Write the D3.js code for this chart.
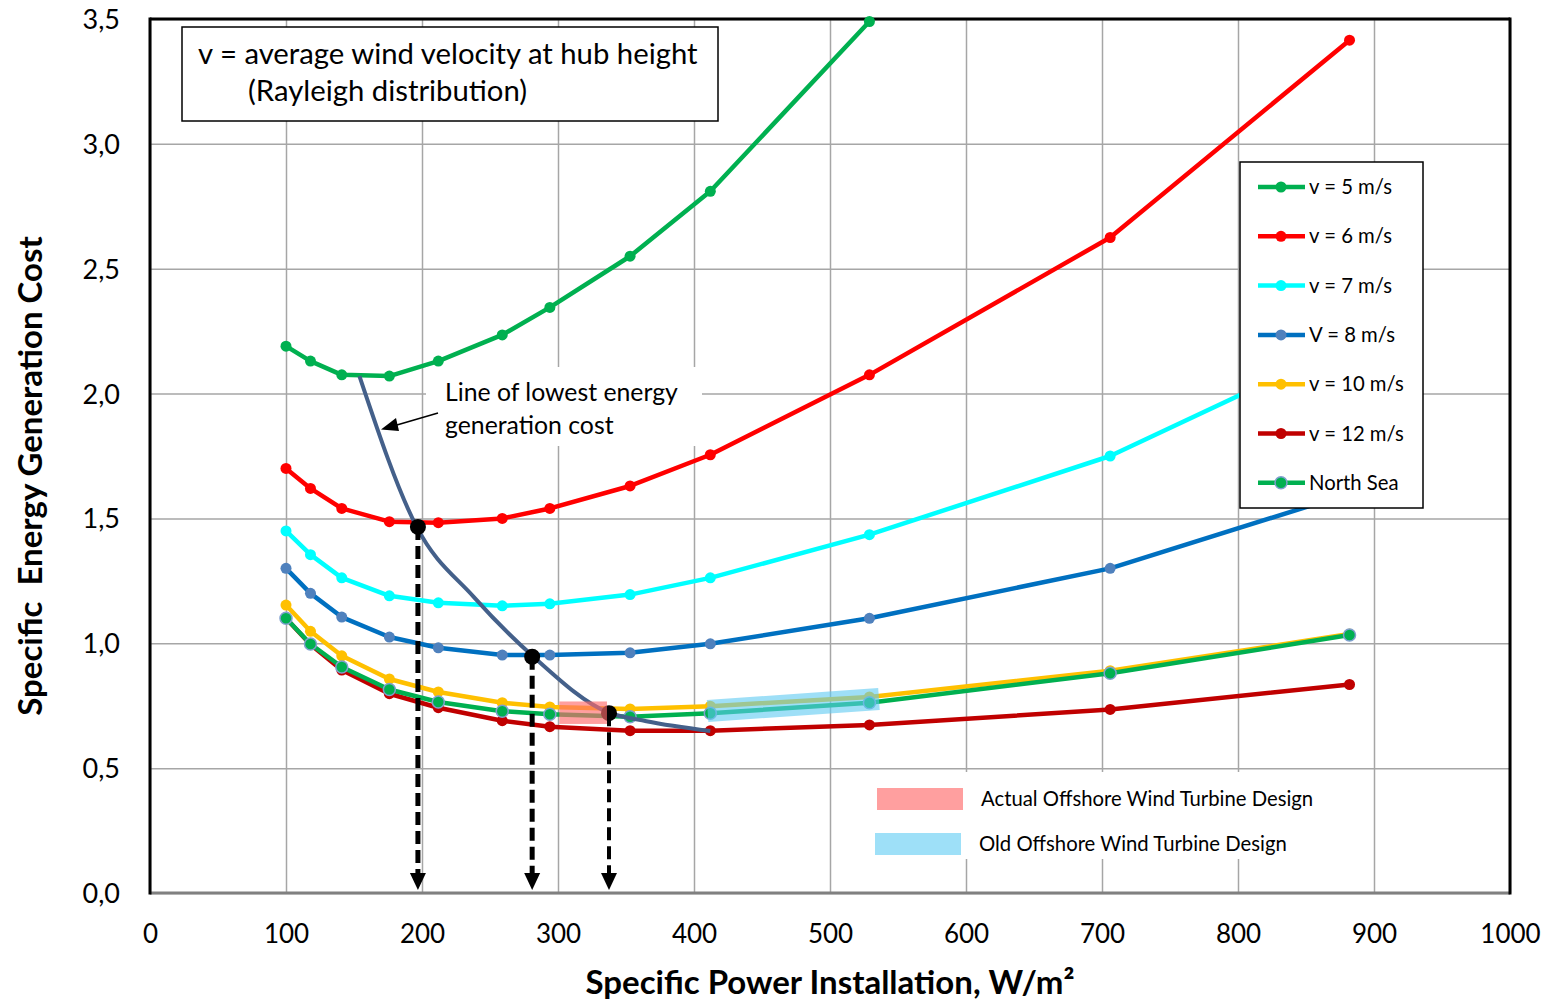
<!DOCTYPE html>
<html>
<head>
<meta charset="utf-8">
<script src="https://cdn.jsdelivr.net/npm/d3@7"></script>
<style>
    body { margin: 0; background: #fff; }
    svg { font-family: Lato, "Open Sans", sans-serif; }
    .tick text { fill: #000; }
    .small-label { font-size: 20.3px; }
</style>
</head>
<body>
<svg width="1549" height="1000"></svg>
<script>
// specific power installation (W/m2) of the computed points
let power = [100, 118, 141, 176, 212, 259, 294, 353, 412, 529, 706, 882];

let cost_v5 = [2.19, 2.13, 2.075, 2.07, 2.13, 2.235, 2.345, 2.55, 2.81, 3.49];
let cost_v6 = [1.70, 1.62, 1.54, 1.487, 1.483, 1.50, 1.54, 1.63, 1.755, 2.075, 2.625, 3.415];
let cost_v7 = [1.45, 1.355, 1.262, 1.19, 1.162, 1.15, 1.158, 1.195, 1.262, 1.435, 1.75, 2.2];
let cost_v8 = [1.30, 1.20, 1.105, 1.025, 0.982, 0.953, 0.953, 0.962, 0.998, 1.10, 1.30, 1.60];
let cost_v10 = [1.153, 1.048, 0.95, 0.857, 0.805, 0.762, 0.745, 0.737, 0.748, 0.785, 0.89, 1.037];
let cost_v12 = [1.10, 0.995, 0.893, 0.798, 0.742, 0.69, 0.666, 0.65, 0.65, 0.673, 0.735, 0.835];
let cost_north_sea = [1.10, 0.997, 0.905, 0.815, 0.765, 0.728, 0.716, 0.706, 0.72, 0.762, 0.88, 1.033];

let series_names = ["v = 5 m/s", "v = 6 m/s", "v = 7 m/s", "V = 8 m/s", "v = 10 m/s", "v = 12 m/s", "North Sea"];

// line of lowest energy generation cost
let lowest_x = [154, 196, 238, 282, 336, 365, 412];
let lowest_y = [2.07, 1.467, 1.186, 0.946, 0.725, 0.688, 0.649];

// optimum points marked with dashed arrows
let optimum_x = [197, 281, 337.5];
let optimum_y = [1.466, 0.946, 0.72];

// design ranges
let actual_x = [301, 336], actual_y = [0.677, 0.767];
let old_x = [410, 536], old_y = [0.729, 0.777];

let x_ticks = d3.range(0, 1001, 100);
let y_ticks = d3.range(0, 3.51, 0.5);

var margin = { top: 19, right: 39, bottom: 107, left: 150 };
let svg = d3.select("svg");
let width = +svg.attr("width") - margin.left - margin.right;
let height = +svg.attr("height") - margin.top - margin.bottom;
let g = svg.append("g")
    .attr("transform", "translate(" + margin.left + "," + margin.top + ")");

let x = d3.scaleLinear().domain([0, 1000]).range([0, width]);
let y = d3.scaleLinear().domain([0, 3.5]).range([height, 0]);

let comma = d3.formatLocale({ decimal: ",", thousands: ".", grouping: [3], currency: ["", ""] }).format(".1f");

// grid + axes
let xAxis = g.append("g")
    .attr("transform", "translate(0," + height + ")")
    .call(d3.axisBottom(x).tickValues(x_ticks).tickSize(-height).tickPadding(32).tickFormat(d3.format("d")));
let yAxis = g.append("g")
    .call(d3.axisLeft(y).tickValues(y_ticks).tickSize(-width).tickPadding(30).tickFormat(comma));
[xAxis, yAxis].forEach(a => {
    a.select(".domain").remove();
    a.selectAll(".tick line").attr("stroke", "#a6a6a6").attr("stroke-width", 1.5);
    a.selectAll(".tick text").attr("font-family", "Lato, sans-serif");
});
xAxis.selectAll(".tick text").attr("font-size", 26);
yAxis.selectAll(".tick text").attr("font-size", 27).attr("dy", "0.35em");

// frame
g.append("line").attr("x1", 0).attr("x2", width).attr("y1", height).attr("y2", height)
    .attr("stroke", "#808080").attr("stroke-width", 3);
g.append("line").attr("x1", 0).attr("x2", width).attr("y1", 0).attr("y2", 0)
    .attr("stroke", "#000").attr("stroke-width", 3);
g.append("line").attr("x1", 0).attr("x2", 0).attr("y1", -1.5).attr("y2", height + 1.5)
    .attr("stroke", "#000").attr("stroke-width", 3);
g.append("line").attr("x1", width).attr("x2", width).attr("y1", -1.5).attr("y2", height + 1.5)
    .attr("stroke", "#000").attr("stroke-width", 3);

// axis titles
svg.append("text")
    .attr("x", margin.left + x(500)).attr("y", 994)
    .attr("text-anchor", "middle").attr("font-weight", "bold").attr("font-size", 33)
    .text("Specific Power Installation, W/m²");
svg.append("text")
    .attr("transform", "translate(42," + (margin.top + y(1.67)) + ") rotate(-90)")
    .attr("text-anchor", "middle").attr("font-weight", "bold").attr("font-size", 33)
    .attr("xml:space", "preserve")
    .text("Specific  Energy Generation Cost");

// series
let series = [
    { name: series_names[0], values: cost_v5, line: "#00b050", dot: "#00b050", ring: null },
    { name: series_names[1], values: cost_v6, line: "#ff0000", dot: "#ff0000", ring: null },
    { name: series_names[2], values: cost_v7, line: "#00ffff", dot: "#00ffff", ring: null },
    { name: series_names[3], values: cost_v8, line: "#0070c0", dot: "#4f81bd", ring: null },
    { name: series_names[4], values: cost_v10, line: "#ffc000", dot: "#ffc000", ring: null },
    { name: series_names[5], values: cost_v12, line: "#c00000", dot: "#c00000", ring: null },
    { name: series_names[6], values: cost_north_sea, line: "#00b050", dot: "#00b050", ring: "#7f9fcf" }
];

let line = d3.line().x(d => x(d[0])).y(d => y(d[1]));

series.forEach(s => {
    let pts = s.values.map((v, i) => [power[i], v]);
    g.append("path")
        .attr("d", line(pts))
        .attr("fill", "none")
        .attr("stroke", s.line)
        .attr("stroke-width", 4.5)
        .attr("stroke-linejoin", "round");
    g.selectAll(null)
        .data(pts)
        .enter()
        .append("circle")
            .attr("cx", d => x(d[0]))
            .attr("cy", d => y(d[1]))
            .attr("r", s.ring ? 6 : 5.5)
            .attr("fill", s.dot)
            .attr("stroke", s.ring ? s.ring : "none")
            .attr("stroke-width", 1.5);
});

// line of lowest cost
g.append("path")
    .attr("d", d3.line().x(d => x(d[0])).y(d => y(d[1])).curve(d3.curveMonotoneX)(lowest_x.map((v, i) => [v, lowest_y[i]])))
    .attr("fill", "none")
    .attr("stroke", "#44608a")
    .attr("stroke-width", 4);

// dashed arrows down to the x axis
optimum_x.forEach((v, i) => {
    let px = x(v);
    g.append("line")
        .attr("x1", px).attr("x2", px)
        .attr("y1", y(optimum_y[i])).attr("y2", height - 18)
        .attr("stroke", "#000").attr("stroke-width", i == 2 ? 4 : 5)
        .attr("stroke-dasharray", "13,6");
    g.append("path")
        .attr("d", `M${px - 8},${height - 20} L${px + 8},${height - 20} L${px},${height - 3} Z`)
        .attr("fill", "#000");
    g.append("circle")
        .attr("cx", px).attr("cy", y(optimum_y[i])).attr("r", 8)
        .attr("fill", "#000");
});

// design ranges
g.append("rect")
    .attr("x", x(actual_x[0])).attr("y", y(actual_y[1]))
    .attr("width", x(actual_x[1]) - x(actual_x[0]))
    .attr("height", y(actual_y[0]) - y(actual_y[1]))
    .attr("fill", "#ff6b6b").attr("opacity", 0.65);
g.append("line")
    .attr("x1", x(old_x[0])).attr("y1", y(old_y[0]))
    .attr("x2", x(old_x[1])).attr("y2", y(old_y[1]))
    .attr("stroke", "#5ecbf3").attr("stroke-width", 22).attr("opacity", 0.6);

// info box
g.append("rect")
    .attr("x", 32).attr("y", 8).attr("width", 536).attr("height", 94)
    .attr("fill", "#fff").attr("stroke", "#000").attr("stroke-width", 1.5);
g.append("text").attr("x", 48).attr("y", 45).attr("font-size", 29.3)
    .text("v = average wind velocity at hub height");
g.append("text").attr("x", 98).attr("y", 82).attr("font-size", 29.3)
    .text("(Rayleigh distribution)");

// annotation of the lowest cost line
g.append("rect")
    .attr("x", 276).attr("y", 348).attr("width", 276).attr("height", 79)
    .attr("fill", "#fff");
g.append("text").attr("x", 295).attr("y", 382).attr("font-size", 24.8)
    .text("Line of lowest energy");
g.append("text").attr("x", 295).attr("y", 415).attr("font-size", 24.8)
    .text("generation cost");
g.append("line")
    .attr("x1", 288).attr("y1", 394).attr("x2", 240).attr("y2", 408)
    .attr("stroke", "#000").attr("stroke-width", 1.5);
g.append("path")
    .attr("d", "M231,410.5 L246,399 L249,412 Z")
    .attr("fill", "#000");

// series legend
let legend_info = g.append("g").attr("transform", "translate(1090,143)");
legend_info.append("rect")
    .attr("width", 183).attr("height", 346)
    .attr("fill", "#fff").attr("stroke", "#000").attr("stroke-width", 1.5);
let items = legend_info.selectAll("g.item")
    .data(series)
    .enter()
    .append("g")
        .attr("class", "item")
        .attr("transform", (d, i) => "translate(0," + (25 + i * 49.3) + ")");
items.append("line")
    .attr("x1", 18).attr("x2", 65)
    .attr("stroke", d => d.line).attr("stroke-width", 4.5);
items.append("circle")
    .attr("cx", 41).attr("r", d => d.ring ? 6 : 5.5)
    .attr("fill", d => d.dot)
    .attr("stroke", d => d.ring ? d.ring : "none").attr("stroke-width", 1.5);
items.append("text")
    .attr("class", "small-label")
    .attr("x", 69).attr("dy", "0.35em")
    .text(d => d.name);

// design legend
let design = [
    { name: "Actual Offshore Wind Turbine Design", color: "#ff6b6b", op: 0.65, y: 780 - 19 },
    { name: "Old Offshore Wind Turbine Design", color: "#5ecbf3", op: 0.6, y: 825 - 19 }
];
design.forEach((d, i) => {
    g.append("rect").attr("x", 718).attr("y", d.y - 8).attr("width", 470).attr("height", 42 + (i ? 0 : 3))
        .attr("fill", "#fff");
    g.append("rect").attr("x", 727 - i * 2).attr("y", d.y + 8).attr("width", 86).attr("height", 22)
        .attr("fill", d.color).attr("opacity", d.op);
    g.append("text").attr("class", "small-label").attr("x", 831 - i * 2).attr("y", d.y + 19)
        .attr("dy", "0.35em").attr("font-size", 20.6).text(d.name);
});
</script>
</body>
</html>
